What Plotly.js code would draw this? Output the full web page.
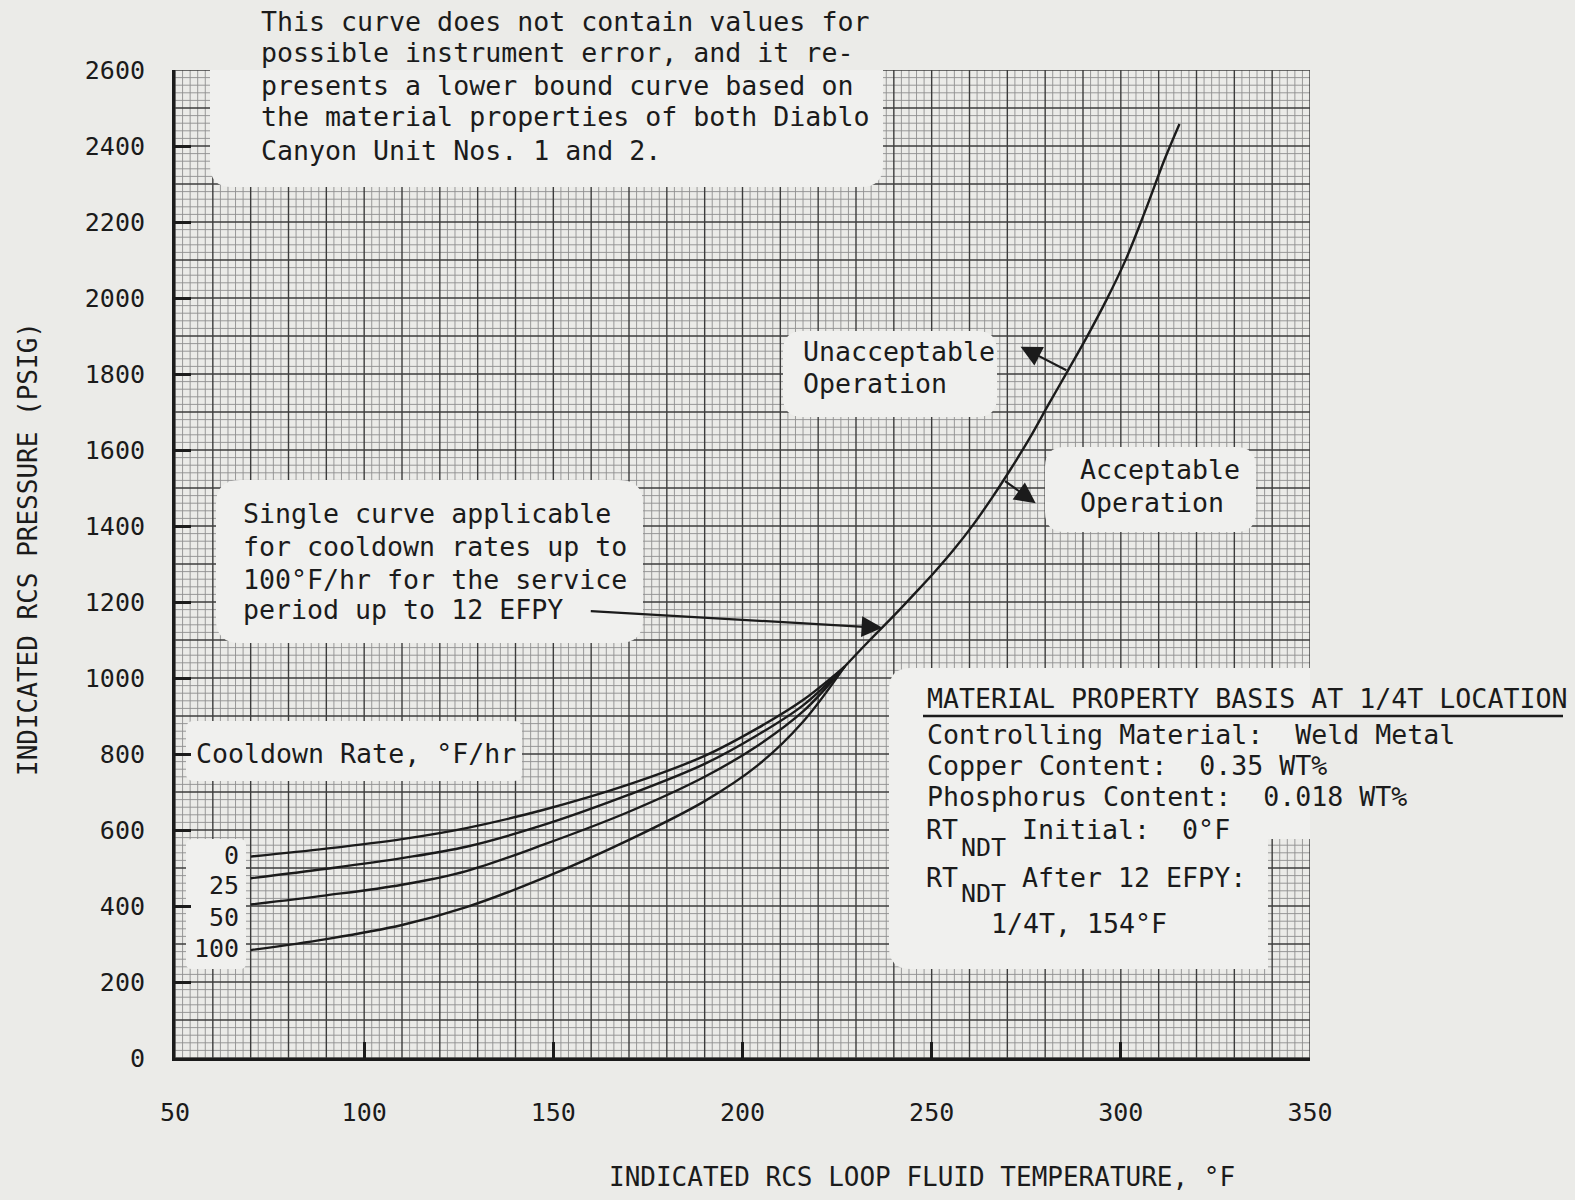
<!DOCTYPE html>
<html>
<head>
<meta charset="utf-8">
<script src="https://cdn.plot.ly/plotly-3.0.1.min.js"></script>
<style>
  html, body { margin: 0; padding: 0; background: #ebebe8; }
  #chart { width: 1575px; height: 1200px; }
</style>
</head>
<body>
<div id="chart"></div>
<script>
// Reactor coolant system cooldown limits: indicated loop fluid temperature (°F)
// against indicated RCS pressure (psig), one curve per cooldown rate (°F/hr).
const rate0Temp   = [70, 90, 110, 127, 147, 170, 190, 204, 216, 227];
const rate0Press  = [530, 551, 576, 605, 652, 720, 795, 868, 942, 1030];
const rate25Temp  = [70, 90, 110, 127, 147, 170, 190, 204, 216, 227];
const rate25Press = [473, 498, 526, 556, 612, 693, 774, 850, 928, 1030];
const rate50Temp  = [70, 90, 110, 127, 147, 170, 190, 204, 216, 227];
const rate50Press = [404, 428, 456, 492, 560, 648, 740, 822, 912, 1030];
const rate100Temp  = [70, 90, 110, 127, 147, 170, 190, 204, 216, 227];
const rate100Press = [284, 313, 350, 397, 472, 574, 676, 770, 885, 1030];

// Single curve above the point where all cooldown rates coincide
const commonTemp  = [227, 233.3, 240.4, 245.5, 250.6, 255.7, 260.8, 265.8, 270.9, 275.9, 280.9, 285.9, 291.0, 296.2, 301.3, 306.4, 311.5, 315.5];
const commonPress = [1030, 1096, 1168, 1222, 1277, 1336, 1401, 1472, 1550, 1631, 1720, 1807, 1897, 1995, 2101, 2228, 2363, 2458];

const rateLabels = ['0', '25', '50', '100'];
const xTickVals = [50, 100, 150, 200, 250, 300, 350];
const yTickVals = [0, 200, 400, 600, 800, 1000, 1200, 1400, 1600, 1800, 2000, 2200, 2400, 2600];

const noteLines = [
  'This curve does not contain values for',
  'possible instrument error, and it re-',
  'presents a lower bound curve based on',
  'the material properties of both Diablo',
  'Canyon Unit Nos. 1 and 2.'
];
const singleCurveLines = [
  'Single curve applicable',
  'for cooldown rates up to',
  '100°F/hr for the service',
  'period up to 12 EFPY'
];
const materialLines = [
  'Controlling Material:\u00a0\u00a0Weld Metal',
  'Copper Content:\u00a0\u00a00.35 WT%',
  'Phosphorus Content:\u00a0\u00a00.018 WT%'
];

// ---- page geometry ----
const W = 1575, H = 1200;
const L = 175, R = 1310, T = 70, B = 1058;
const X_MIN = 50, X_MAX = 350, Y_MIN = 0, Y_MAX = 2600;
const INK = '#1b1b1b';
const PAPER = '#ebebe8';
const PATCH = '#f0f0ee';
const MONO = '"DejaVu Sans Mono", "Liberation Mono", monospace';

const dx = px => X_MIN + (px - L) * (X_MAX - X_MIN) / (R - L);
const dy = py => Y_MIN + (B - py) * (Y_MAX - Y_MIN) / (B - T);
const fx = px => (px - L) / (R - L);
const fy = py => (B - py) / (B - T);

// ---- graph paper: fine rules every 2 °F / 20 psig, bold every 10 °F / 100 psig ----
const shapes = [];
const FINE = {color: '#8e8e8e', width: 0.9};
const BOLD = {color: '#3c3c3c', width: 1.4};
for (let pass = 0; pass < 2; pass++) {
  for (let t = X_MIN; t <= X_MAX; t += 2) {
    const major = (t % 10 === 0);
    if ((pass === 1) !== major) continue;
    shapes.push({type: 'line', xref: 'x', yref: 'y', layer: 'below',
      x0: t, x1: t, y0: Y_MIN, y1: Y_MAX, line: major ? BOLD : FINE});
  }
  for (let p = Y_MIN; p <= Y_MAX; p += 20) {
    const major = (p % 100 === 0);
    if ((pass === 1) !== major) continue;
    shapes.push({type: 'line', xref: 'x', yref: 'y', layer: 'below',
      x0: X_MIN, x1: X_MAX, y0: p, y1: p, line: major ? BOLD : FINE});
  }
}

// ---- pasted-on label patches that hide the grid ----
const P = (a, b) => dx(a).toFixed(3) + ',' + dy(b).toFixed(3);
function roundRect(x0, y0, x1, y1, r) {
  return 'M' + P(x0 + r, y0) + ' L' + P(x1 - r, y0) + ' Q' + P(x1, y0) + ' ' + P(x1, y0 + r) +
         ' L' + P(x1, y1 - r) + ' Q' + P(x1, y1) + ' ' + P(x1 - r, y1) +
         ' L' + P(x0 + r, y1) + ' Q' + P(x0, y1) + ' ' + P(x0, y1 - r) +
         ' L' + P(x0, y0 + r) + ' Q' + P(x0, y0) + ' ' + P(x0 + r, y0) + ' Z';
}
function patch(path) {
  shapes.push({type: 'path', xref: 'x', yref: 'y', layer: 'below', path: path,
    fillcolor: PATCH, line: {width: 0}});
}
patch(roundRect(210, 30, 883, 187, 22));     // note at the top
patch(roundRect(216, 480, 643, 643, 24));    // single curve note
patch(roundRect(783, 331, 997, 417, 20));    // unacceptable
patch(roundRect(1045, 447, 1256, 532, 20));  // acceptable
patch(roundRect(186, 721, 522, 781, 8));     // cooldown rate heading
patch(roundRect(186, 839, 246, 969, 6));     // rate values
// material property panel, leaving a strip of grid at its lower right
const mr = 22;
patch('M' + P(889 + mr, 668) + ' L' + P(1600, 668) + ' L' + P(1600, 969) +
      ' L' + P(1316, 969) + ' L' + P(1316, 839) + ' L' + P(1268, 839) + ' L' + P(1268, 969) +
      ' L' + P(889 + mr, 969) + ' Q' + P(889, 969) + ' ' + P(889, 969 - mr) +
      ' L' + P(889, 668 + mr) + ' Q' + P(889, 668) + ' ' + P(889 + mr, 668) + ' Z');

// underline of the material heading
shapes.push({type: 'line', xref: 'paper', yref: 'paper', layer: 'above',
  x0: fx(923), x1: fx(1563), y0: fy(716), y1: fy(716),
  line: {color: INK, width: 2.4}});

// ---- curves ----
const curveStyle = {color: INK, width: 2.4, shape: 'spline', smoothing: 1.0};
const traces = [
  {x: rate0Temp, y: rate0Press, name: rateLabels[0] + ' °F/hr'},
  {x: rate25Temp, y: rate25Press, name: rateLabels[1] + ' °F/hr'},
  {x: rate50Temp, y: rate50Press, name: rateLabels[2] + ' °F/hr'},
  {x: rate100Temp, y: rate100Press, name: rateLabels[3] + ' °F/hr'},
  {x: commonTemp, y: commonPress, name: 'All rates'}
].map(t => Object.assign({type: 'scatter', mode: 'lines', line: curveStyle, hoverinfo: 'skip'}, t));

// ---- text ----
const annotations = [];
function say(text, px, py, extra) {
  annotations.push(Object.assign({
    xref: 'paper', yref: 'paper', x: fx(px), y: fy(py), text: text,
    showarrow: false, xanchor: 'left', yanchor: 'middle',
    font: {family: MONO, size: 26.6, color: INK}
  }, extra || {}));
}
const noteY = [22, 53, 85, 117, 150];
noteLines.forEach((s, i) => say(s, 259, noteY[i]));
const singleY = [513, 546, 579, 610];
singleCurveLines.forEach((s, i) => say(s, 241, singleY[i]));
say('Unacceptable', 801, 351);
say('Operation', 801, 383);
say('Acceptable', 1078, 469);
say('Operation', 1078, 502);
say('Cooldown Rate, °F/hr', 194, 753);
const rateY = [855, 885, 917, 948];
rateLabels.forEach((s, i) => say(s, 240, rateY[i],
  {xanchor: 'right', borderpad: 0, font: {family: MONO, size: 25, color: INK}}));

say('MATERIAL PROPERTY BASIS AT 1/4T LOCATION', 925, 698);
const matY = [734, 765, 797];
materialLines.forEach((s, i) => say(s, 925, matY[i]));
const sub = {borderpad: 0, font: {family: MONO, size: 25, color: INK}};
say('RT', 925, 829, {borderpad: 0});
say('NDT', 960, 847, sub);
say('Initial:\u00a0\u00a00°F', 1021, 829, {borderpad: 0});
say('RT', 925, 877, {borderpad: 0});
say('NDT', 960, 893, sub);
say('After 12 EFPY:', 1021, 877, {borderpad: 0});
say('1/4T, 154°F', 989, 923);

// axis titles
say('INDICATED RCS PRESSURE (PSIG)', 28, 549, {xanchor: 'center', textangle: -90, font: {family: MONO, size: 26, color: INK}});
say('INDICATED RCS LOOP FLUID TEMPERATURE, °F', 922, 1177, {xanchor: 'center', font: {family: MONO, size: 26, color: INK}});

// arrows
function arrow(tipT, tipP, tailT, tailP) {
  annotations.push({xref: 'x', yref: 'y', axref: 'x', ayref: 'y',
    x: tipT, y: tipP, ax: tailT, ay: tailP, text: '', showarrow: true,
    arrowhead: 2, arrowsize: 1.9, arrowwidth: 2.2, arrowcolor: INK, standoff: 0, startstandoff: 0});
}
arrow(237.0, 1132, 159.5, 1176);   // single curve note -> curve
arrow(273.5, 1872, 286.0, 1808);   // unacceptable side
arrow(277.5, 1460, 269.0, 1521);   // acceptable side

const axisCommon = {
  showgrid: false, zeroline: false, showline: true, linecolor: INK, linewidth: 3,
  ticks: 'inside', ticklen: 16, tickwidth: 3, tickcolor: INK,
  tickfont: {family: MONO, size: 25, color: INK}, fixedrange: true
};

const layout = {
  width: W, height: H,
  margin: {l: L, r: W - R, t: T, b: H - B, pad: 0},
  paper_bgcolor: PAPER, plot_bgcolor: PAPER,
  showlegend: false, hovermode: false,
  xaxis: Object.assign({}, axisCommon, {
    range: [X_MIN, X_MAX], tickmode: 'array', tickvals: xTickVals,
    ticktext: xTickVals.map(String), ticklabelstandoff: 30
  }),
  yaxis: Object.assign({}, axisCommon, {
    range: [Y_MIN, Y_MAX], tickmode: 'array', tickvals: yTickVals,
    ticktext: yTickVals.map(String), ticklabelstandoff: 22
  }),
  shapes: shapes,
  annotations: annotations
};

Plotly.newPlot('chart', traces, layout, {displayModeBar: false, staticPlot: true});
</script>
</body>
</html>
